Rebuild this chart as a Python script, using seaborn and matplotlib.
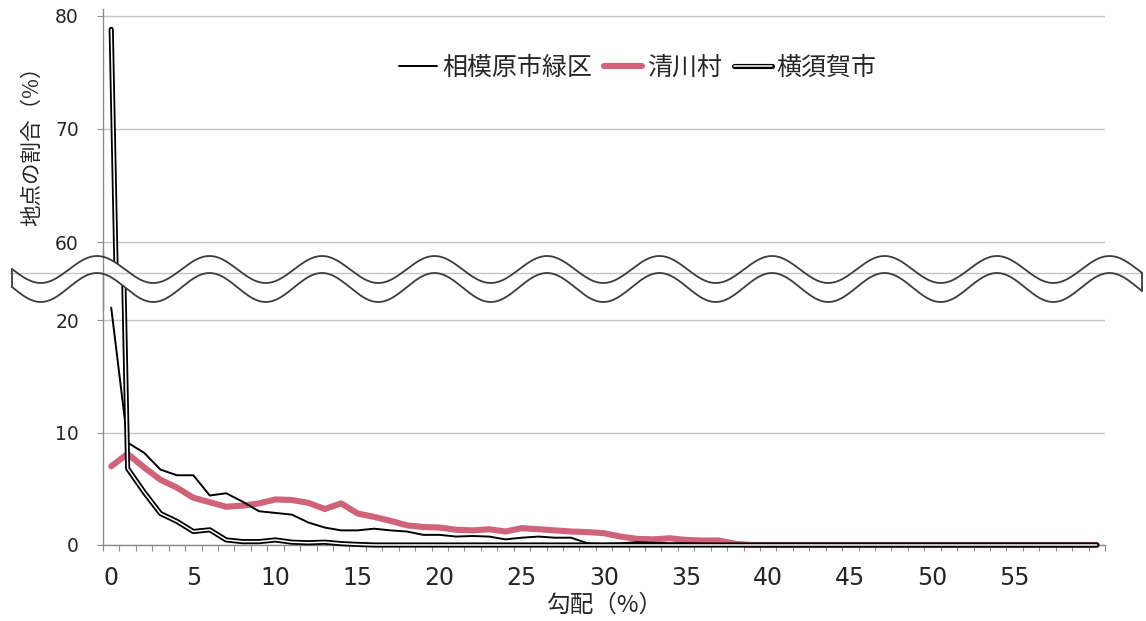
import numpy as np
import matplotlib
matplotlib.use("Agg")
import matplotlib.pyplot as plt
import matplotlib.patheffects as pe
from matplotlib.patches import Rectangle
import seaborn as sns

# gradient class (%) on the horizontal axis
grade = list(range(61))

# share of points per gradient class (%)
sagamihara_midori = [
    21.1, 9.1, 8.2, 6.7, 6.2, 6.2, 4.4, 4.6, 3.85, 3.0,
    2.85, 2.7, 2.0, 1.55, 1.3, 1.3, 1.45, 1.3, 1.2, 0.9,
    0.9, 0.75, 0.8, 0.75, 0.5, 0.65, 0.75, 0.65, 0.65, 0.15,
    0.1, 0.15, 0.25, 0.2, 0.15, 0.15, 0.1, 0.05, 0.0, 0.0,
    0.0, 0.0, 0.0, 0.0, 0.0, 0.0, 0.0, 0.0, 0.0, 0.0,
    0.0, 0.0, 0.0, 0.0, 0.0, 0.0, 0.0, 0.0, 0.0, 0.0,
    0.0,
]
kiyokawa = [
    7.0, 8.1, 6.9, 5.8, 5.1, 4.2, 3.8, 3.4, 3.5, 3.7,
    4.05, 4.0, 3.75, 3.2, 3.7, 2.8, 2.5, 2.15, 1.75, 1.6,
    1.55, 1.35, 1.3, 1.4, 1.2, 1.5, 1.4, 1.3, 1.2, 1.15,
    1.05, 0.75, 0.55, 0.5, 0.6, 0.45, 0.4, 0.4, 0.1, 0.0,
    0.0, 0.0, 0.0, 0.0, 0.0, 0.0, 0.0, 0.0, 0.0, 0.0,
    0.0, 0.0, 0.0, 0.0, 0.0, 0.0, 0.0, 0.0, 0.0, 0.0,
    0.0,
]
yokosuka = [
    78.8, 6.8, 4.7, 2.8, 2.1, 1.2, 1.35, 0.45, 0.3, 0.3,
    0.45, 0.25, 0.2, 0.25, 0.12, 0.05, 0.0, 0.0, 0.0, 0.0,
    0.0, 0.0, 0.0, 0.0, 0.0, 0.0, 0.0, 0.0, 0.0, 0.0,
    0.0, 0.0, 0.0, 0.0, 0.0, 0.0, 0.0, 0.0, 0.0, 0.0,
    0.0, 0.0, 0.0, 0.0, 0.0, 0.0, 0.0, 0.0, 0.0, 0.0,
    0.0, 0.0, 0.0, 0.0, 0.0, 0.0, 0.0, 0.0, 0.0, 0.0,
    0.0,
]

series_names = ["相模原市緑区", "清川村", "横須賀市"]
x_tick_values = list(range(0, 56, 5))
upper_ticks = [60, 70, 80]
lower_ticks = [0, 10, 20]
x_label = "勾配（%）"
y_label = "地点の割合（%）"

sns.set_theme(style="white")
plt.rcParams["font.family"] = ["DejaVu Sans", "Noto Sans CJK JP"]
CJK = ["Noto Sans CJK JP", "DejaVu Sans"]

W, H = 1146, 621
fig = plt.figure(figsize=(W / 100, H / 100), dpi=100)
fig.patch.set_facecolor("white")

left, right = 103, 1105
split_px, top_px, zero_px = 273, 9, 545
ax_top = fig.add_axes([left / W, 1 - split_px / H, (right - left) / W, (split_px - top_px) / H])
ax_bot = fig.add_axes([left / W, 1 - zero_px / H, (right - left) / W, (zero_px - split_px) / H])

PINK = "#d0637a"
GRID = "#c4c4c4"
SPINE = "#8c8c8c"
TXT = "#262626"


def draw_series(ax):
    sns.lineplot(x=grade, y=kiyokawa, ax=ax, color=PINK, linewidth=4.4,
                 label=series_names[1], zorder=3)
    sns.lineplot(x=grade, y=sagamihara_midori, ax=ax, color="black", linewidth=1.4,
                 label=series_names[0], zorder=4)
    sns.lineplot(x=grade, y=yokosuka, ax=ax, color="white", linewidth=1.1,
                 label=series_names[2], zorder=5,
                 path_effects=[pe.Stroke(linewidth=3.7, foreground="black"), pe.Normal()])
    if ax.get_legend() is not None:
        ax.get_legend().remove()


for ax in (ax_top, ax_bot):
    draw_series(ax)
    ax.set_xlim(-0.5, 60.5)
    ax.set_facecolor("white")
    ax.yaxis.grid(True, color=GRID, linewidth=1.0)
    ax.xaxis.grid(False)
    ax.set_axisbelow(True)
    for s in ("top", "right"):
        ax.spines[s].set_visible(False)
    ax.spines["left"].set_color(SPINE)
    ax.spines["left"].set_linewidth(1.0)
    ax.tick_params(axis="y", direction="out", length=4.3, width=0.8, color=SPINE,
                   labelsize=13.5, labelcolor=TXT, pad=13, left=True)
    ax.set_xlabel("")
    ax.set_ylabel("")

# upper panel: 57.3 .. 80.6
ax_top.set_ylim(57.26, 80.6)
ax_top.set_yticks(upper_ticks)
ax_top.spines["bottom"].set_visible(False)
ax_top.set_xticks([])

# lower panel: 0 .. 24.2
ax_bot.set_ylim(0, 24.18)
ax_bot.set_yticks(lower_ticks)
ax_bot.spines["bottom"].set_color(SPINE)
ax_bot.spines["bottom"].set_linewidth(1.0)
ax_bot.set_xticks(x_tick_values)
ax_bot.set_xticks(np.arange(-0.5, 61, 1), minor=True)
ax_bot.tick_params(axis="x", which="major", length=0, labelsize=17, labelcolor=TXT, pad=15)
ax_bot.tick_params(axis="x", which="minor", direction="out", length=4.3, width=0.8,
                   color=SPINE, bottom=True)

# let the lines at zero show their full width below the axis line
for ln in ax_bot.get_lines():
    clip = Rectangle((0, -0.03), 1, 1.03, transform=ax_bot.transAxes)
    ln.set_clip_path(clip)

ax_bot.set_xlabel(x_label, fontsize=17, family=CJK, color=TXT, labelpad=3)
ax_top.set_ylabel(y_label, fontsize=15.5, family=CJK, color=TXT, labelpad=9)

# legend (one row, at the top)
handles, labels = ax_bot.get_legend_handles_labels()
by_label = dict(zip(labels, handles))
leg = ax_top.legend([by_label[n] for n in series_names], series_names,
                    loc="center", bbox_to_anchor=(0.534, 0.777), ncol=3, frameon=False,
                    handlelength=1.5, handletextpad=0.2, columnspacing=0.5,
                    prop={"family": CJK, "size": 18})
for t in leg.get_texts():
    t.set_color(TXT)

# wavy break band between the two panels
ov = fig.add_axes([0, 0, 1, 1], zorder=10)
ov.set_xlim(0, W)
ov.set_ylim(H, 0)
ov.axis("off")
ov.patch.set_alpha(0)
xs = np.linspace(12, 1142, 900)
phase = 2 * np.pi * (xs - 97) / 112.5
upper_edge = 269.5 - 13.5 * np.cos(phase)
lower_edge = 287.5 - 14.5 * np.cos(phase)
ov.fill_between(xs, upper_edge, lower_edge, color="white", zorder=1, lw=0)
ov.plot([10, 1142], [273, 273], color=GRID, lw=1.0, zorder=2)
ov.plot([left, left], [250, 310], color=SPINE, lw=1.0, zorder=2)
wave_kw = dict(color="#3c3c3c", lw=1.3, zorder=3, solid_capstyle="round")
ov.plot(xs, upper_edge, **wave_kw)
ov.plot(xs, lower_edge, **wave_kw)
ov.plot([xs[0], xs[0]], [upper_edge[0], lower_edge[0]], **wave_kw)
ov.plot([xs[-1], xs[-1]], [upper_edge[-1], lower_edge[-1]], **wave_kw)

fig.savefig("out.png", dpi=100, facecolor="white")
